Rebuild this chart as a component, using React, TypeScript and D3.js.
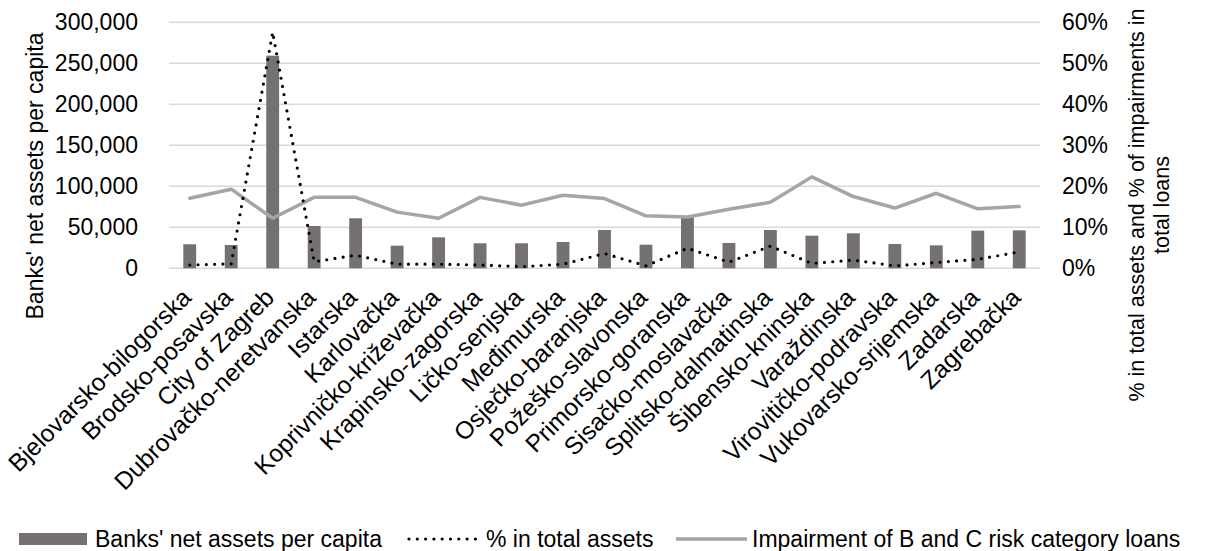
import React from "react";
import * as d3 from "d3";

const categories = [
  "Bjelovarsko-bilogorska", "Brodsko-posavska", "City of Zagreb", "Dubrovačko-neretvanska",
  "Istarska", "Karlovačka", "Koprivničko-križevačka", "Krapinsko-zagorska", "Ličko-senjska",
  "Međimurska", "Osječko-baranjska", "Požeško-slavonska", "Primorsko-goranska",
  "Sisačko-moslavačka", "Splitsko-dalmatinska", "Šibensko-kninska", "Varaždinska",
  "Virovitičko-podravska", "Vukovarsko-srijemska", "Zadarska", "Zagrebačka",
];
const netAssetsPerCapita = [
  29300, 28400, 259300, 51600, 61000, 27600, 37800, 30500, 30500, 32100, 46700,
  28800, 62200, 30900, 46700, 39800, 42700, 29600, 28000, 45900, 46300,
];
const shareTotalAssets = [
  0.8, 1.1, 57.6, 1.6, 3.2, 1.0, 1.0, 0.8, 0.4, 1.0, 3.6, 0.6, 4.9, 1.5, 5.4, 1.2,
  2.0, 0.6, 1.4, 2.2, 4.0,
];
const impairmentShare = [
  17.1, 19.3, 12.2, 17.3, 17.3, 13.7, 12.2, 17.3, 15.4, 17.8, 17.0, 12.8, 12.5,
  14.4, 16.1, 22.3, 17.5, 14.7, 18.3, 14.5, 15.1,
];
const leftTicks = [0, 50000, 100000, 150000, 200000, 250000, 300000];
const rightTicks = [0, 10, 20, 30, 40, 50, 60];
const legendLabels = [
  "Banks' net assets per capita",
  "% in total assets",
  "Impairment of B and C risk category loans",
];

const W = 1206, H = 551;
const FONT = "'Liberation Sans', Arial, sans-serif";
const plot = { left: 169, right: 1040, top: 22.3, bottom: 268.3 };
const BAR = "#767171", LINE = "#a5a5a5", GRID = "#d9d9d9";

export default function App() {
  const x = d3.scaleBand<string>().domain(categories).range([plot.left, plot.right]).paddingInner(0.69).paddingOuter(0.345);
  const xc = d3.scalePoint<string>().domain(categories).range([plot.left, plot.right]).padding(0.5);
  const yL = d3.scaleLinear().domain([0, 300000]).range([plot.bottom, plot.top]);
  const yR = d3.scaleLinear().domain([0, 60]).range([plot.bottom, plot.top]);
  const fmt = d3.format(",");
  const dotted = d3.line<number>().x((_, i) => xc(categories[i])!).y((v) => yR(v))(shareTotalAssets)!;
  const solid = d3.line<number>().x((_, i) => xc(categories[i])!).y((v) => yR(v))(impairmentShare)!;
  const ly = 539;

  return (
    <svg width={W} height={H} style={{ position: "absolute", left: 0, top: 0, background: "#fff" }} fontFamily={FONT}>
      <rect width={W} height={H} fill="#fff" />
      {leftTicks.map((t) => (
        <line key={t} x1={plot.left} x2={plot.right} y1={yL(t)} y2={yL(t)} stroke={GRID} strokeWidth={1.5} />
      ))}
      {netAssetsPerCapita.map((v, i) => (
        <rect key={i} x={x(categories[i])} y={yL(v)} width={x.bandwidth()} height={yL(0) - yL(v)} fill={BAR} />
      ))}
      <path d={solid} fill="none" stroke={LINE} strokeWidth={3.5} strokeLinejoin="round" strokeLinecap="round" />
      <path d={dotted} fill="none" stroke="#000" strokeWidth={3.2} strokeDasharray="0 8.3" strokeLinecap="round" />
      {leftTicks.map((t) => (
        <text key={t} x={138} y={yL(t)} dy="0.35em" textAnchor="end" fontSize={23} fill="#000">{fmt(t)}</text>
      ))}
      {rightTicks.map((t) => (
        <text key={t} x={1062} y={yR(t)} dy="0.35em" textAnchor="start" fontSize={23} fill="#000">{t + "%"}</text>
      ))}
      {categories.map((c) => (
        <text key={c} transform={`translate(${xc(c)! + 3},${299}) rotate(-45)`} textAnchor="end" fontSize={24.5} fill="#000">{c}</text>
      ))}
      <text transform={`translate(43,176) rotate(-90)`} textAnchor="middle" fontSize={23} fill="#000">Banks' net assets per capita</text>
      <text transform={`translate(1144,205) rotate(-90)`} textAnchor="middle" fontSize={21.5} fill="#000">% in total assets and % of impairments in</text>
      <text transform={`translate(1169,205) rotate(-90)`} textAnchor="middle" fontSize={21.5} fill="#000">total loans</text>
      <rect x={19} y={533} width={68} height={12} fill={BAR} />
      <text x={95} y={546.5} fontSize={23} fill="#000">{legendLabels[0]}</text>
      <line x1={409} x2={478} y1={ly} y2={ly} stroke="#000" strokeWidth={3.2} strokeDasharray="0 8.3" strokeLinecap="round" />
      <text x={486} y={546.5} fontSize={23} fill="#000">{legendLabels[1]}</text>
      <line x1={676} x2={747} y1={ly} y2={ly} stroke={LINE} strokeWidth={3.5} />
      <text x={752} y={546.5} fontSize={23} fill="#000">{legendLabels[2]}</text>
    </svg>
  );
}
